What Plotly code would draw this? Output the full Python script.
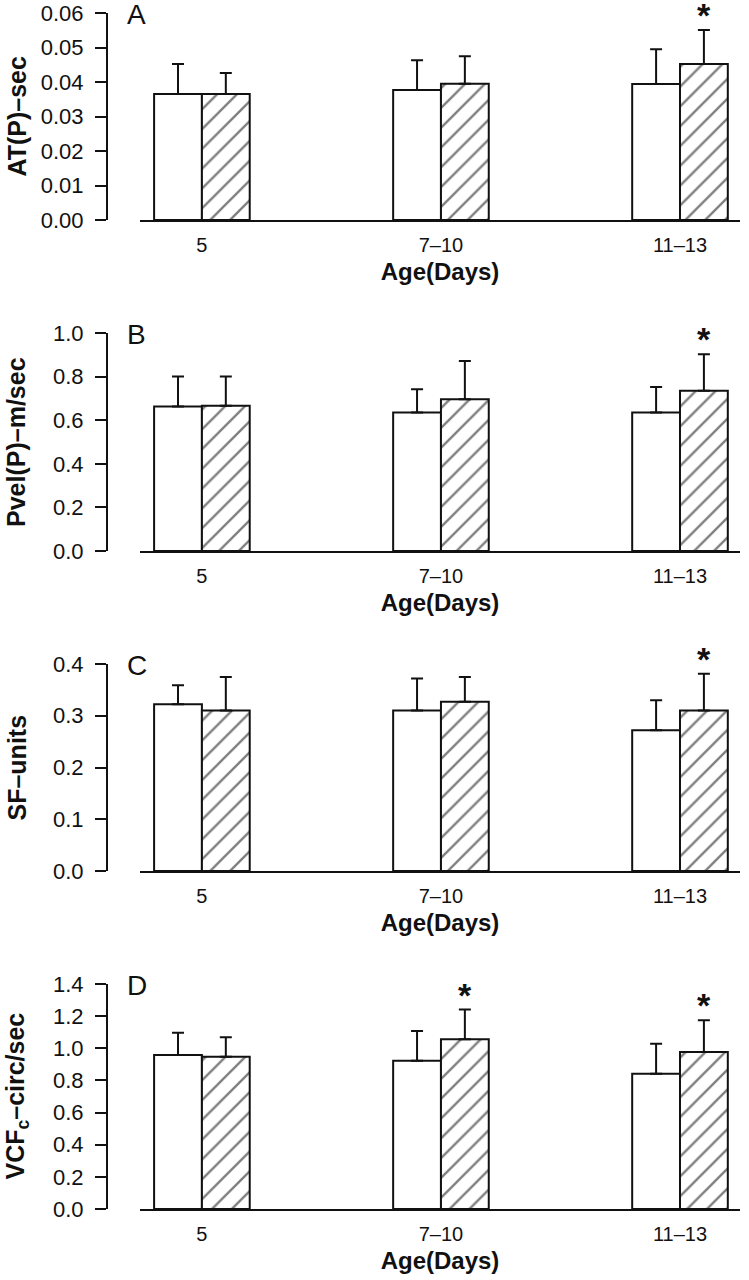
import plotly.graph_objects as go

# age groups on the x axis
groups = ['5', '7–10', '11–13']

# panel A: AT(P) in sec
at_ctrl = [0.0365, 0.0377, 0.0394]
at_ctrl_sd = [0.0087, 0.0086, 0.0101]
at_trt = [0.0365, 0.0395, 0.0452]
at_trt_sd = [0.0061, 0.0080, 0.0099]
at_sig = [False, False, True]

# panel B: Pvel(P) in m/sec
pv_ctrl = [0.663, 0.635, 0.635]
pv_ctrl_sd = [0.137, 0.107, 0.117]
pv_trt = [0.666, 0.696, 0.735]
pv_trt_sd = [0.134, 0.175, 0.168]
pv_sig = [False, False, True]

# panel C: SF units
sf_ctrl = [0.322, 0.310, 0.272]
sf_ctrl_sd = [0.037, 0.062, 0.058]
sf_trt = [0.310, 0.327, 0.310]
sf_trt_sd = [0.065, 0.048, 0.071]
sf_sig = [False, False, True]

# panel D: VCFc in circ/sec
vcf_ctrl = [0.959, 0.922, 0.841]
vcf_ctrl_sd = [0.138, 0.185, 0.188]
vcf_trt = [0.948, 1.056, 0.977]
vcf_trt_sd = [0.120, 0.185, 0.198]
vcf_sig = [False, True, True]

panels = [
    ('A', 'AT(P)–sec', at_ctrl, at_ctrl_sd, at_trt, at_trt_sd, at_sig, 0.06, 0.01, '.2f'),
    ('B', 'Pvel(P)–m/sec', pv_ctrl, pv_ctrl_sd, pv_trt, pv_trt_sd, pv_sig, 1.0, 0.2, '.1f'),
    ('C', 'SF–units', sf_ctrl, sf_ctrl_sd, sf_trt, sf_trt_sd, sf_sig, 0.4, 0.1, '.1f'),
    ('D', 'VCF<sub>c</sub>–circ/sec', vcf_ctrl, vcf_ctrl_sd, vcf_trt, vcf_trt_sd, vcf_sig, 1.4, 0.2, '.1f'),
]

# pixel rows (top, bottom) of each panel's y axis in the 749x1280 page
W, H = 749, 1280
rows = [(13, 220), (333, 551), (664, 871), (984, 1209)]

FONT = 'Liberation Sans, Arial, sans-serif'
INK = '#111111'

fig = go.Figure()
annotations = []

for k, (letter, ytitle, ctrl, ctrl_sd, trt, trt_sd, sig, ymax, dtick, fmt) in enumerate(panels):
    n = '' if k == 0 else str(k + 1)
    xa, ya = 'x' + n, 'y' + n

    fig.add_trace(go.Bar(
        x=groups, y=ctrl, xaxis=xa, yaxis=ya,
        marker=dict(color='white', line=dict(color=INK, width=2)),
        error_y=dict(type='data', array=ctrl_sd, arrayminus=[0] * 3, symmetric=False,
                     color=INK, thickness=2, width=6),
        showlegend=False,
    ))
    fig.add_trace(go.Bar(
        x=groups, y=trt, xaxis=xa, yaxis=ya,
        marker=dict(color='white', line=dict(color=INK, width=2),
                    pattern=dict(shape='/', fgcolor='#000000', bgcolor='white',
                                 size=14, solidity=0.17)),
        error_y=dict(type='data', array=trt_sd, arrayminus=[0] * 3, symmetric=False,
                     color=INK, thickness=2, width=6),
        showlegend=False,
    ))

    top, bot = rows[k]
    dom = [1 - bot / H, 1 - top / H]

    fig.update_layout({
        'xaxis' + n: dict(
            domain=[140 / W, 740 / W], anchor=ya, range=[-0.259, 2.251],
            automargin=False,
            showline=True, linecolor=INK, linewidth=2,
            ticks='outside', ticklen=6, tickcolor='rgba(0,0,0,0)',
            tickfont=dict(family=FONT, size=20, color=INK),
            showgrid=False, zeroline=False,
            title=dict(text='Age(Days)', standoff=8,
                       font=dict(family=FONT, size=24, color=INK, weight='bold')),
        ),
        'yaxis' + n: dict(
            domain=dom, anchor='free', position=107 / W,
            range=[0, ymax], dtick=dtick, tickformat=fmt,
            automargin=False,
            showline=True, linecolor=INK, linewidth=2,
            ticks='outside', ticklen=11, tickwidth=2, tickcolor=INK,
            ticklabelstandoff=7,
            tickfont=dict(family=FONT, size=22, color=INK),
            showgrid=False, zeroline=False,
        ),
    })

    # panel letter
    annotations.append(dict(
        text=letter, xref='paper', yref='paper', x=125 / W, y=dom[1] + 16 / H,
        xanchor='left', yanchor='top', showarrow=False,
        font=dict(family=FONT, size=28, color=INK),
    ))
    # y axis title
    annotations.append(dict(
        text=ytitle, xref='paper', yref='paper', x=16 / W, y=(dom[0] + dom[1]) / 2,
        xanchor='center', yanchor='middle', textangle=-90, showarrow=False,
        font=dict(family=FONT, size=25, color=INK, weight='bold'),
    ))
    # significance asterisks above the treated bars
    for i, s in enumerate(sig):
        if s:
            annotations.append(dict(
                text='*', xref=xa, yref=ya, x=i + 0.1, y=trt[i] + trt_sd[i],
                xanchor='center', yanchor='bottom', yshift=-6, showarrow=False,
                font=dict(family=FONT, size=34, color=INK, weight='bold'),
            ))

fig.update_layout(
    width=W, height=H,
    margin=dict(l=0, r=0, t=0, b=0),
    barmode='group', bargap=0.6, bargroupgap=0,
    plot_bgcolor='white', paper_bgcolor='white',
    annotations=annotations,
)

# drop the default page margin so the figure sits at the window's corner
fig.write_html('out.html', config={'displayModeBar': False},
               post_script="document.body.style.margin = '0';")
